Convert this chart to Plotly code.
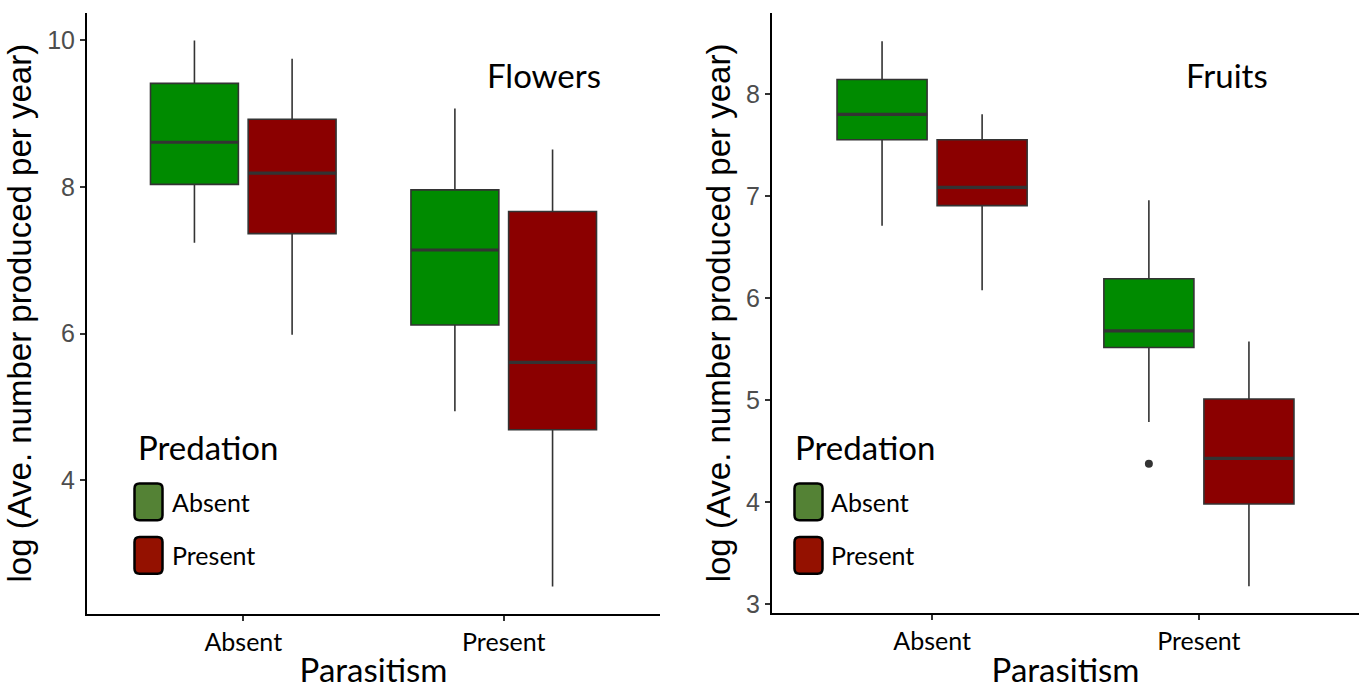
import plotly.graph_objects as go

W, H = 1365, 689

parasitism = ["Absent", "Present"]
predation = ["Absent", "Present"]

# Flowers panel stats [Parasitism Absent, Parasitism Present]
fl_abs_low = [7.24, 4.94]
fl_abs_q1 = [8.035, 6.117]
fl_abs_med = [8.61, 7.14]
fl_abs_q3 = [9.413, 7.96]
fl_abs_up = [10.0, 9.07]

fl_pre_low = [5.985, 2.547]
fl_pre_q1 = [7.363, 4.688]
fl_pre_med = [8.19, 5.606]
fl_pre_q3 = [8.925, 7.665]
fl_pre_up = [9.748, 8.51]

# Fruits panel stats
fr_abs_low = [6.711, 4.786]
fr_abs_q1 = [7.555, 5.516]
fr_abs_med = [7.805, 5.679]
fr_abs_q3 = [8.146, 6.191]
fr_abs_up = [8.523, 6.961]

fr_pre_low = [6.078, 3.172]
fr_pre_q1 = [6.909, 3.98]
fr_pre_med = [7.087, 4.428]
fr_pre_q3 = [7.555, 5.01]
fr_pre_up = [7.805, 5.575]

# Outlier (Fruits, Predation absent)
fr_abs_out_x = ["Present"]
fr_abs_out_y = [4.374]

GREEN = "#008B00"
RED = "#8B0000"
KEY_GREEN = "#548235"
KEY_RED = "#941100"
EDGE = "#333333"

def px(x):
    return x / W

def py(y):
    return 1 - y / H

fig = go.Figure()

def add_panel(xa, ya, stats_abs, stats_pre):
    for name, st, col, og in [("Absent", stats_abs, GREEN, "A"), ("Present", stats_pre, RED, "P")]:
        low, q1, med, q3, up = st
        fig.add_trace(go.Box(
            x=parasitism, q1=q1, median=med, q3=q3, lowerfence=low, upperfence=up,
            name=name, fillcolor=col, line=dict(color=EDGE, width=1.6),
            whiskerwidth=0, offsetgroup=og, xaxis=xa, yaxis=ya, showlegend=False,
            boxpoints=False, hoverinfo="skip"))
        # thicker median line
        fig.add_trace(go.Box(
            x=parasitism, q1=med, median=med, q3=med, lowerfence=med, upperfence=med,
            name=name, fillcolor=col, line=dict(color=EDGE, width=3.2),
            whiskerwidth=0, offsetgroup=og, xaxis=xa, yaxis=ya, showlegend=False,
            boxpoints=False, hoverinfo="skip"))

add_panel("x", "y",
          (fl_abs_low, fl_abs_q1, fl_abs_med, fl_abs_q3, fl_abs_up),
          (fl_pre_low, fl_pre_q1, fl_pre_med, fl_pre_q3, fl_pre_up))
add_panel("x2", "y2",
          (fr_abs_low, fr_abs_q1, fr_abs_med, fr_abs_q3, fr_abs_up),
          (fr_pre_low, fr_pre_q1, fr_pre_med, fr_pre_q3, fr_pre_up))

# outlier point, drawn at the position of the green (Absent) box
fig.add_trace(go.Box(
    x=fr_abs_out_x, y=fr_abs_out_y, name="Absent", offsetgroup="A",
    boxpoints="all", jitter=0, pointpos=0,
    fillcolor="rgba(0,0,0,0)", line=dict(color="rgba(0,0,0,0)", width=0),
    marker=dict(color=EDGE, size=8), whiskerwidth=0,
    xaxis="x2", yaxis="y2", showlegend=False, hoverinfo="skip"))

SANS = "Lato"
ARIAL = "Liberation Sans, Arial"

xcommon = dict(type="category", categoryorder="array", categoryarray=parasitism,
               range=[-0.6, 1.6], showline=True, linecolor="black", linewidth=2,
               ticks="outside", ticklen=5, tickcolor="#333333", tickwidth=1.5,
               showgrid=False, zeroline=False,
               tickfont=dict(family=SANS, size=25, color="black"),
               title=dict(text="Parasitism", font=dict(family=SANS, size=33, color="black"), standoff=5))
ycommon = dict(showline=True, linecolor="black", linewidth=2,
               ticks="outside", ticklen=5, tickcolor="#333333", tickwidth=1.5,
               showgrid=False, zeroline=False,
               tickfont=dict(family=ARIAL, size=25, color="#4D4D4D"),
               title=dict(text="log (Ave. number produced per year)",
                          font=dict(family=ARIAL, size=33, color="black"), standoff=6))

fig.update_layout(
    width=W, height=H, margin=dict(l=0, r=0, t=0, b=0),
    paper_bgcolor="white", plot_bgcolor="white",
    boxmode="group", boxgap=0.25, boxgroupgap=0.1,
    showlegend=False,
    xaxis=dict(domain=[px(87), px(660)], anchor="y", **xcommon),
    yaxis=dict(domain=[py(618), py(13)], anchor="x", range=[2.18, 10.375],
               tickvals=[4, 6, 8, 10], **ycommon),
    xaxis2=dict(domain=[px(772), px(1359)], anchor="y2", **xcommon),
    yaxis2=dict(domain=[py(617.5), py(13)], anchor="x2", range=[2.91, 8.8],
                tickvals=[3, 4, 5, 6, 7, 8], **ycommon),
)

# Panel labels
fig.add_annotation(text="Flowers", x=px(544), y=py(76), xref="paper", yref="paper",
                   xanchor="center", yanchor="middle",
                   showarrow=False, font=dict(family=SANS, size=33, color="black"))
fig.add_annotation(text="Fruits", x=px(1227), y=py(76), xref="paper", yref="paper",
                   xanchor="center", yanchor="middle",
                   showarrow=False, font=dict(family=SANS, size=33, color="black"))

# Custom legends
def rounded_rect(x0, y0, x1, y1, r=5):
    X = lambda v: f"{px(v):.6f}"
    Y = lambda v: f"{py(v):.6f}"
    return (f"M {X(x0+r)} {Y(y0)} L {X(x1-r)} {Y(y0)} Q {X(x1)} {Y(y0)} {X(x1)} {Y(y0+r)} "
            f"L {X(x1)} {Y(y1-r)} Q {X(x1)} {Y(y1)} {X(x1-r)} {Y(y1)} "
            f"L {X(x0+r)} {Y(y1)} Q {X(x0)} {Y(y1)} {X(x0)} {Y(y1-r)} "
            f"L {X(x0)} {Y(y0+r)} Q {X(x0)} {Y(y0)} {X(x0+r)} {Y(y0)} Z")

for lx, tx in [(134.5, 137.5), (794.5, 795)]:
    fig.add_annotation(text="Predation", x=px(tx - 2), y=py(450), xref="paper", yref="paper",
                       xanchor="left", yanchor="middle", showarrow=False,
                       font=dict(family=SANS, size=33, color="black"))
    for (y0, y1), col, lab in [((487, 524), KEY_GREEN, predation[0]), ((541, 578), KEY_RED, predation[1])]:
        fig.add_shape(type="path", path=rounded_rect(lx, y0, lx + 28, y1), xref="paper", yref="paper",
                      fillcolor=col, line=dict(color="black", width=2.5))
        fig.add_annotation(text=lab, x=px(lx + 35), y=py((y0 + y1) / 2), xref="paper", yref="paper",
                           xanchor="left", yanchor="middle", showarrow=False,
                           font=dict(family=SANS, size=25, color="black"))

fig.write_html("out.html", config={"displayModeBar": False},
               post_script="document.body.style.margin='0';")
